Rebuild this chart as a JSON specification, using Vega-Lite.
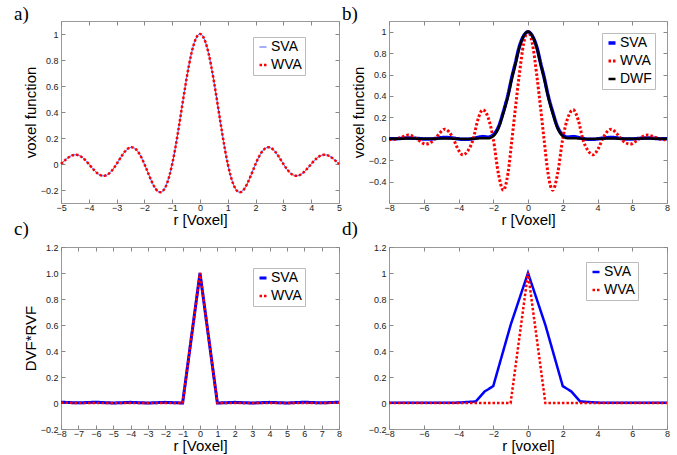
{
  "$schema": "https://vega.github.io/schema/vega-lite/v6.json",
  "autosize": {"type": "pad"},
  "padding": {"left": 13, "top": 4, "right": 0, "bottom": 0},
  "background": "white",
  "config": {
    "view": {"stroke": "#999", "strokeWidth": 1},
    "axis": {"grid": false, "domain": false, "tickColor": "#888", "tickSize": -4, "labelFont": "Liberation Sans", "labelFontSize": 9, "labelColor": "#222", "labelPadding": 7, "labelFlush": false, "labelOverlap": false, "labelBound": false, "titleFont": "Liberation Sans", "titleFontSize": 15, "titleFontWeight": "normal", "titleColor": "black"},
    "axisX": {"titlePadding": 0, "labelPadding": 4},
    "axisY": {"titlePadding": 2},
    "legend": {"title": null, "symbolType": "stroke", "symbolSize": 49, "labelFont": "Liberation Sans", "labelFontSize": 14, "labelColor": "black", "fillColor": "white", "strokeColor": "#bbb", "padding": 3, "rowPadding": 4, "labelOffset": 1},
    "title": {"font": "Liberation Serif", "fontSize": 19, "fontWeight": "normal", "color": "black", "anchor": "start", "frame": "group", "baseline": "alphabetic", "offset": 0}
  },
  "datasets": {
    "a": [
      {"r": -5, "SVA": 0, "WVA": 0}, {"r": -4.8, "SVA": 0.039, "WVA": 0.039}, {"r": -4.6, "SVA": 0.0658, "WVA": 0.0658}, {"r": -4.4, "SVA": 0.0688, "WVA": 0.0688}, {"r": -4.2, "SVA": 0.0445, "WVA": 0.0445},
      {"r": -4, "SVA": 0, "WVA": 0}, {"r": -3.8, "SVA": -0.0492, "WVA": -0.0492}, {"r": -3.6, "SVA": -0.0841, "WVA": -0.0841}, {"r": -3.4, "SVA": -0.089, "WVA": -0.089}, {"r": -3.2, "SVA": -0.0585, "WVA": -0.0585},
      {"r": -3, "SVA": 0, "WVA": 0}, {"r": -2.8, "SVA": 0.0668, "WVA": 0.0668}, {"r": -2.6, "SVA": 0.1164, "WVA": 0.1164}, {"r": -2.4, "SVA": 0.1261, "WVA": 0.1261}, {"r": -2.2, "SVA": 0.085, "WVA": 0.085},
      {"r": -2, "SVA": 0, "WVA": 0}, {"r": -1.8, "SVA": -0.1039, "WVA": -0.1039}, {"r": -1.6, "SVA": -0.1892, "WVA": -0.1892}, {"r": -1.4, "SVA": -0.2162, "WVA": -0.2162}, {"r": -1.2, "SVA": -0.1559, "WVA": -0.1559},
      {"r": -1, "SVA": 0, "WVA": 0}, {"r": -0.8, "SVA": 0.2339, "WVA": 0.2339}, {"r": -0.6, "SVA": 0.5046, "WVA": 0.5046}, {"r": -0.4, "SVA": 0.7568, "WVA": 0.7568}, {"r": -0.2, "SVA": 0.9355, "WVA": 0.9355},
      {"r": 0, "SVA": 1, "WVA": 1},
      {"r": 0.2, "SVA": 0.9355, "WVA": 0.9355}, {"r": 0.4, "SVA": 0.7568, "WVA": 0.7568}, {"r": 0.6, "SVA": 0.5046, "WVA": 0.5046}, {"r": 0.8, "SVA": 0.2339, "WVA": 0.2339}, {"r": 1, "SVA": 0, "WVA": 0},
      {"r": 1.2, "SVA": -0.1559, "WVA": -0.1559}, {"r": 1.4, "SVA": -0.2162, "WVA": -0.2162}, {"r": 1.6, "SVA": -0.1892, "WVA": -0.1892}, {"r": 1.8, "SVA": -0.1039, "WVA": -0.1039}, {"r": 2, "SVA": 0, "WVA": 0},
      {"r": 2.2, "SVA": 0.085, "WVA": 0.085}, {"r": 2.4, "SVA": 0.1261, "WVA": 0.1261}, {"r": 2.6, "SVA": 0.1164, "WVA": 0.1164}, {"r": 2.8, "SVA": 0.0668, "WVA": 0.0668}, {"r": 3, "SVA": 0, "WVA": 0},
      {"r": 3.2, "SVA": -0.0585, "WVA": -0.0585}, {"r": 3.4, "SVA": -0.089, "WVA": -0.089}, {"r": 3.6, "SVA": -0.0841, "WVA": -0.0841}, {"r": 3.8, "SVA": -0.0492, "WVA": -0.0492}, {"r": 4, "SVA": 0, "WVA": 0},
      {"r": 4.2, "SVA": 0.0445, "WVA": 0.0445}, {"r": 4.4, "SVA": 0.0688, "WVA": 0.0688}, {"r": 4.6, "SVA": 0.0658, "WVA": 0.0658}, {"r": 4.8, "SVA": 0.039, "WVA": 0.039}, {"r": 5, "SVA": 0, "WVA": 0}
    ],
    "b": [
      {"r": -8, "SVA": 0, "WVA": -0.01, "DWF": 0}, {"r": -7.55, "SVA": 0.001, "WVA": 0, "DWF": 0}, {"r": -7.2, "SVA": 0.005, "WVA": 0.02, "DWF": 0.001}, {"r": -6.9, "SVA": 0.008, "WVA": 0.035, "DWF": 0.002}, {"r": -6.65, "SVA": 0.006, "WVA": 0.025, "DWF": 0.002},
      {"r": -6.4, "SVA": 0.003, "WVA": 0, "DWF": 0.001}, {"r": -6.15, "SVA": 0, "WVA": -0.03, "DWF": 0}, {"r": -5.9, "SVA": -0.003, "WVA": -0.05, "DWF": -0.001}, {"r": -5.6, "SVA": -0.002, "WVA": -0.035, "DWF": -0.001}, {"r": -5.35, "SVA": 0.002, "WVA": 0, "DWF": 0},
      {"r": -5.1, "SVA": 0.008, "WVA": 0.05, "DWF": 0.002}, {"r": -4.8, "SVA": 0.012, "WVA": 0.09, "DWF": 0.003}, {"r": -4.55, "SVA": 0.01, "WVA": 0.065, "DWF": 0.003}, {"r": -4.3, "SVA": 0.006, "WVA": 0, "DWF": 0.001}, {"r": -4.05, "SVA": 0, "WVA": -0.09, "DWF": 0},
      {"r": -3.75, "SVA": -0.005, "WVA": -0.15, "DWF": -0.002}, {"r": -3.45, "SVA": -0.004, "WVA": -0.11, "DWF": -0.002}, {"r": -3.15, "SVA": 0.002, "WVA": 0, "DWF": 0}, {"r": -2.9, "SVA": 0.012, "WVA": 0.17, "DWF": 0.003}, {"r": -2.6, "SVA": 0.02, "WVA": 0.27, "DWF": 0.005},
      {"r": -2.3, "SVA": 0.015, "WVA": 0.2, "DWF": 0.005}, {"r": -2, "SVA": 0.035, "WVA": 0, "DWF": 0.025}, {"r": -1.7, "SVA": 0.11, "WVA": -0.33, "DWF": 0.1}, {"r": -1.42, "SVA": 0.25, "WVA": -0.48, "DWF": 0.24}, {"r": -1.15, "SVA": 0.41, "WVA": -0.32, "DWF": 0.4},
      {"r": -0.92, "SVA": 0.58, "WVA": 0, "DWF": 0.57}, {"r": -0.75, "SVA": 0.69, "WVA": 0.25, "DWF": 0.68}, {"r": -0.5, "SVA": 0.86, "WVA": 0.6, "DWF": 0.85}, {"r": -0.25, "SVA": 0.96, "WVA": 0.89, "DWF": 0.96},
      {"r": 0, "SVA": 1, "WVA": 1, "DWF": 1},
      {"r": 0.25, "SVA": 0.96, "WVA": 0.89, "DWF": 0.96}, {"r": 0.5, "SVA": 0.86, "WVA": 0.6, "DWF": 0.85}, {"r": 0.75, "SVA": 0.69, "WVA": 0.25, "DWF": 0.68}, {"r": 0.92, "SVA": 0.58, "WVA": 0, "DWF": 0.57},
      {"r": 1.15, "SVA": 0.41, "WVA": -0.32, "DWF": 0.4}, {"r": 1.42, "SVA": 0.25, "WVA": -0.48, "DWF": 0.24}, {"r": 1.7, "SVA": 0.11, "WVA": -0.33, "DWF": 0.1}, {"r": 2, "SVA": 0.035, "WVA": 0, "DWF": 0.025}, {"r": 2.3, "SVA": 0.015, "WVA": 0.2, "DWF": 0.005},
      {"r": 2.6, "SVA": 0.02, "WVA": 0.27, "DWF": 0.005}, {"r": 2.9, "SVA": 0.012, "WVA": 0.17, "DWF": 0.003}, {"r": 3.15, "SVA": 0.002, "WVA": 0, "DWF": 0}, {"r": 3.45, "SVA": -0.004, "WVA": -0.11, "DWF": -0.002}, {"r": 3.75, "SVA": -0.005, "WVA": -0.15, "DWF": -0.002},
      {"r": 4.05, "SVA": 0, "WVA": -0.09, "DWF": 0}, {"r": 4.3, "SVA": 0.006, "WVA": 0, "DWF": 0.001}, {"r": 4.55, "SVA": 0.01, "WVA": 0.065, "DWF": 0.003}, {"r": 4.8, "SVA": 0.012, "WVA": 0.09, "DWF": 0.003}, {"r": 5.1, "SVA": 0.008, "WVA": 0.05, "DWF": 0.002},
      {"r": 5.35, "SVA": 0.002, "WVA": 0, "DWF": 0}, {"r": 5.6, "SVA": -0.002, "WVA": -0.035, "DWF": -0.001}, {"r": 5.9, "SVA": -0.003, "WVA": -0.05, "DWF": -0.001}, {"r": 6.15, "SVA": 0, "WVA": -0.03, "DWF": 0}, {"r": 6.4, "SVA": 0.003, "WVA": 0, "DWF": 0.001},
      {"r": 6.65, "SVA": 0.006, "WVA": 0.025, "DWF": 0.002}, {"r": 6.9, "SVA": 0.008, "WVA": 0.035, "DWF": 0.002}, {"r": 7.2, "SVA": 0.005, "WVA": 0.02, "DWF": 0.001}, {"r": 7.55, "SVA": 0.001, "WVA": 0, "DWF": 0}, {"r": 8, "SVA": 0, "WVA": -0.01, "DWF": 0}
    ],
    "c": [
      {"r": -8, "SVA": 0.006, "WVA": 0.002}, {"r": -7, "SVA": 0.001, "WVA": 0}, {"r": -6, "SVA": 0.006, "WVA": 0}, {"r": -5, "SVA": 0, "WVA": 0}, {"r": -4, "SVA": 0.005, "WVA": 0},
      {"r": -3, "SVA": 0, "WVA": 0}, {"r": -2, "SVA": 0.005, "WVA": 0}, {"r": -1, "SVA": 0, "WVA": 0}, {"r": 0, "SVA": 1, "WVA": 1}, {"r": 1, "SVA": 0, "WVA": 0},
      {"r": 2, "SVA": 0.005, "WVA": 0}, {"r": 3, "SVA": 0, "WVA": 0}, {"r": 4, "SVA": 0.005, "WVA": 0}, {"r": 5, "SVA": 0, "WVA": 0}, {"r": 6, "SVA": 0.006, "WVA": 0},
      {"r": 7, "SVA": 0.001, "WVA": 0}, {"r": 8, "SVA": 0.006, "WVA": 0.002}
    ],
    "d": [
      {"r": -8, "SVA": 0.002, "WVA": 0}, {"r": -7, "SVA": 0.002, "WVA": 0}, {"r": -6, "SVA": 0.001, "WVA": 0}, {"r": -5, "SVA": 0.002, "WVA": 0}, {"r": -4, "SVA": 0.003, "WVA": 0},
      {"r": -3, "SVA": 0.012, "WVA": 0}, {"r": -2.5, "SVA": 0.088, "WVA": 0}, {"r": -2, "SVA": 0.13, "WVA": 0}, {"r": -1, "SVA": 0.6, "WVA": 0}, {"r": 0, "SVA": 1, "WVA": 1},
      {"r": 1, "SVA": 0.6, "WVA": 0}, {"r": 2, "SVA": 0.13, "WVA": 0}, {"r": 2.5, "SVA": 0.088, "WVA": 0}, {"r": 3, "SVA": 0.012, "WVA": 0}, {"r": 4, "SVA": 0.003, "WVA": 0},
      {"r": 5, "SVA": 0.002, "WVA": 0}, {"r": 6, "SVA": 0.001, "WVA": 0}, {"r": 7, "SVA": 0.002, "WVA": 0}, {"r": 8, "SVA": 0.002, "WVA": 0}
    ]
  },
  "columns": 2,
  "spacing": {"row": 44, "column": 50},
  "bounds": "flush",
  "resolve": {"scale": {"color": "independent", "strokeDash": "independent", "strokeWidth": "independent"}, "legend": {"color": "independent", "strokeDash": "independent", "strokeWidth": "independent"}},
  "concat": [
    {
      "width": 278, "height": 182,
      "title": {"text": "a)", "dx": -47, "dy": 7},
      "data": {"name": "a"},
      "transform": [{"fold": ["SVA", "WVA"], "as": ["s", "v"]}],
      "resolve": {"axis": {"x": "independent", "y": "independent"}},
      "layer": [
        {
          "mark": {"type": "line", "interpolate": "natural"},
          "encoding": {
            "x": {"field": "r", "type": "quantitative", "scale": {"domain": [-5, 5], "nice": false, "zero": false}, "axis": {"values": [-5, -4, -3, -2, -1, 0, 1, 2, 3, 4, 5], "title": "r [Voxel]"}},
            "y": {"field": "v", "type": "quantitative", "scale": {"domain": [-0.3, 1.1], "nice": false, "zero": false}, "axis": {"values": [-0.2, 0, 0.2, 0.4, 0.6, 0.8, 1], "format": "~g", "title": "voxel function"}},
            "color": {"field": "s", "type": "nominal", "scale": {"domain": ["SVA", "WVA"], "range": ["#3344ff", "#ff0000"]}, "legend": {"orient": "none", "legendX": 192, "legendY": 16}},
            "strokeDash": {"field": "s", "type": "nominal", "scale": {"domain": ["SVA", "WVA"], "range": [[1, 0], [2.5, 2]]}, "legend": {"orient": "none", "legendX": 192, "legendY": 16}},
            "strokeWidth": {"field": "s", "type": "nominal", "scale": {"domain": ["SVA", "WVA"], "range": [1, 2.5]}, "legend": {"orient": "none", "legendX": 192, "legendY": 16}}
          }
        },
        {
          "mark": {"type": "line", "strokeOpacity": 0},
          "encoding": {
            "x": {"field": "r", "type": "quantitative", "axis": {"orient": "top", "values": [-5, -4, -3, -2, -1, 0, 1, 2, 3, 4, 5], "labels": false, "title": null}},
            "y": {"field": "v", "type": "quantitative", "axis": {"orient": "right", "values": [-0.2, 0, 0.2, 0.4, 0.6, 0.8, 1], "labels": false, "title": null}}
          }
        }
      ]
    },
    {
      "width": 278, "height": 182,
      "title": {"text": "b)", "dx": -47, "dy": 7},
      "data": {"name": "b"},
      "transform": [{"fold": ["SVA", "WVA", "DWF"], "as": ["s", "v"]}],
      "resolve": {"axis": {"x": "independent", "y": "independent"}},
      "layer": [
        {
          "mark": {"type": "line", "interpolate": "monotone"},
          "encoding": {
            "x": {"field": "r", "type": "quantitative", "scale": {"domain": [-8, 8], "nice": false, "zero": false}, "axis": {"values": [-8, -6, -4, -2, 0, 2, 4, 6, 8], "title": "r [Voxel]"}},
            "y": {"field": "v", "type": "quantitative", "scale": {"domain": [-0.6, 1.1], "nice": false, "zero": false}, "axis": {"values": [-0.4, -0.2, 0, 0.2, 0.4, 0.6, 0.8, 1], "format": "~g", "title": "voxel function"}},
            "color": {"field": "s", "type": "nominal", "scale": {"domain": ["SVA", "WVA", "DWF"], "range": ["#0000ff", "#ff0000", "#000000"]}, "legend": {"orient": "none", "legendX": 213, "legendY": 12}},
            "strokeDash": {"field": "s", "type": "nominal", "scale": {"domain": ["SVA", "WVA", "DWF"], "range": [[1, 0], [2.5, 2], [1, 0]]}, "legend": {"orient": "none", "legendX": 213, "legendY": 12}},
            "strokeWidth": {"field": "s", "type": "nominal", "scale": {"domain": ["SVA", "WVA", "DWF"], "range": [3.5, 2.5, 2.2]}, "legend": {"orient": "none", "legendX": 213, "legendY": 12}}
          }
        },
        {
          "mark": {"type": "line", "strokeOpacity": 0},
          "encoding": {
            "x": {"field": "r", "type": "quantitative", "axis": {"orient": "top", "values": [-8, -6, -4, -2, 0, 2, 4, 6, 8], "labels": false, "title": null}},
            "y": {"field": "v", "type": "quantitative", "axis": {"orient": "right", "values": [-0.4, -0.2, 0, 0.2, 0.4, 0.6, 0.8, 1], "labels": false, "title": null}}
          }
        }
      ]
    },
    {
      "width": 278, "height": 182,
      "title": {"text": "c)", "dx": -47, "dy": 0},
      "data": {"name": "c"},
      "transform": [{"fold": ["SVA", "WVA"], "as": ["s", "v"]}],
      "resolve": {"axis": {"x": "independent", "y": "independent"}},
      "layer": [
        {
          "mark": {"type": "line"},
          "encoding": {
            "x": {"field": "r", "type": "quantitative", "scale": {"domain": [-8, 8], "nice": false, "zero": false}, "axis": {"values": [-8, -7, -6, -5, -4, -3, -2, -1, 0, 1, 2, 3, 4, 5, 6, 7, 8], "title": "r [Voxel]"}},
            "y": {"field": "v", "type": "quantitative", "scale": {"domain": [-0.2, 1.2], "nice": false, "zero": false}, "axis": {"values": [-0.2, 0, 0.2, 0.4, 0.6, 0.8, 1, 1.2], "labelExpr": "datum.value === 1 ? '1.0' : format(datum.value, '~g')", "title": "DVF*RVF"}},
            "color": {"field": "s", "type": "nominal", "scale": {"domain": ["SVA", "WVA"], "range": ["#0000ff", "#ff0000"]}, "legend": {"orient": "none", "legendX": 192, "legendY": 21}},
            "strokeDash": {"field": "s", "type": "nominal", "scale": {"domain": ["SVA", "WVA"], "range": [[1, 0], [2.5, 2]]}, "legend": {"orient": "none", "legendX": 192, "legendY": 21}},
            "strokeWidth": {"field": "s", "type": "nominal", "scale": {"domain": ["SVA", "WVA"], "range": [3, 2.5]}, "legend": {"orient": "none", "legendX": 192, "legendY": 21}}
          }
        },
        {
          "mark": {"type": "line", "strokeOpacity": 0},
          "encoding": {
            "x": {"field": "r", "type": "quantitative", "axis": {"orient": "top", "values": [-8, -7, -6, -5, -4, -3, -2, -1, 0, 1, 2, 3, 4, 5, 6, 7, 8], "labels": false, "title": null}},
            "y": {"field": "v", "type": "quantitative", "axis": {"orient": "right", "values": [-0.2, 0, 0.2, 0.4, 0.6, 0.8, 1, 1.2], "labels": false, "title": null}}
          }
        }
      ]
    },
    {
      "width": 278, "height": 182,
      "title": {"text": "d)", "dx": -47, "dy": 0},
      "data": {"name": "d"},
      "transform": [{"fold": ["SVA", "WVA"], "as": ["s", "v"]}],
      "resolve": {"axis": {"x": "independent", "y": "independent"}},
      "layer": [
        {
          "mark": {"type": "line"},
          "encoding": {
            "x": {"field": "r", "type": "quantitative", "scale": {"domain": [-8, 8], "nice": false, "zero": false}, "axis": {"values": [-8, -6, -4, -2, 0, 2, 4, 6, 8], "title": "r [voxel]"}},
            "y": {"field": "v", "type": "quantitative", "scale": {"domain": [-0.2, 1.2], "nice": false, "zero": false}, "axis": {"values": [-0.2, 0, 0.2, 0.4, 0.6, 0.8, 1, 1.2], "format": "~g", "title": null}},
            "color": {"field": "s", "type": "nominal", "scale": {"domain": ["SVA", "WVA"], "range": ["#0000ff", "#ff0000"]}, "legend": {"orient": "none", "legendX": 197, "legendY": 15}},
            "strokeDash": {"field": "s", "type": "nominal", "scale": {"domain": ["SVA", "WVA"], "range": [[1, 0], [2.5, 2]]}, "legend": {"orient": "none", "legendX": 197, "legendY": 15}},
            "strokeWidth": {"field": "s", "type": "nominal", "scale": {"domain": ["SVA", "WVA"], "range": [2.5, 2.5]}, "legend": {"orient": "none", "legendX": 197, "legendY": 15}}
          }
        },
        {
          "mark": {"type": "line", "strokeOpacity": 0},
          "encoding": {
            "x": {"field": "r", "type": "quantitative", "axis": {"orient": "top", "values": [-8, -6, -4, -2, 0, 2, 4, 6, 8], "labels": false, "title": null}},
            "y": {"field": "v", "type": "quantitative", "axis": {"orient": "right", "values": [-0.2, 0, 0.2, 0.4, 0.6, 0.8, 1, 1.2], "labels": false, "title": null}}
          }
        }
      ]
    }
  ]
}
